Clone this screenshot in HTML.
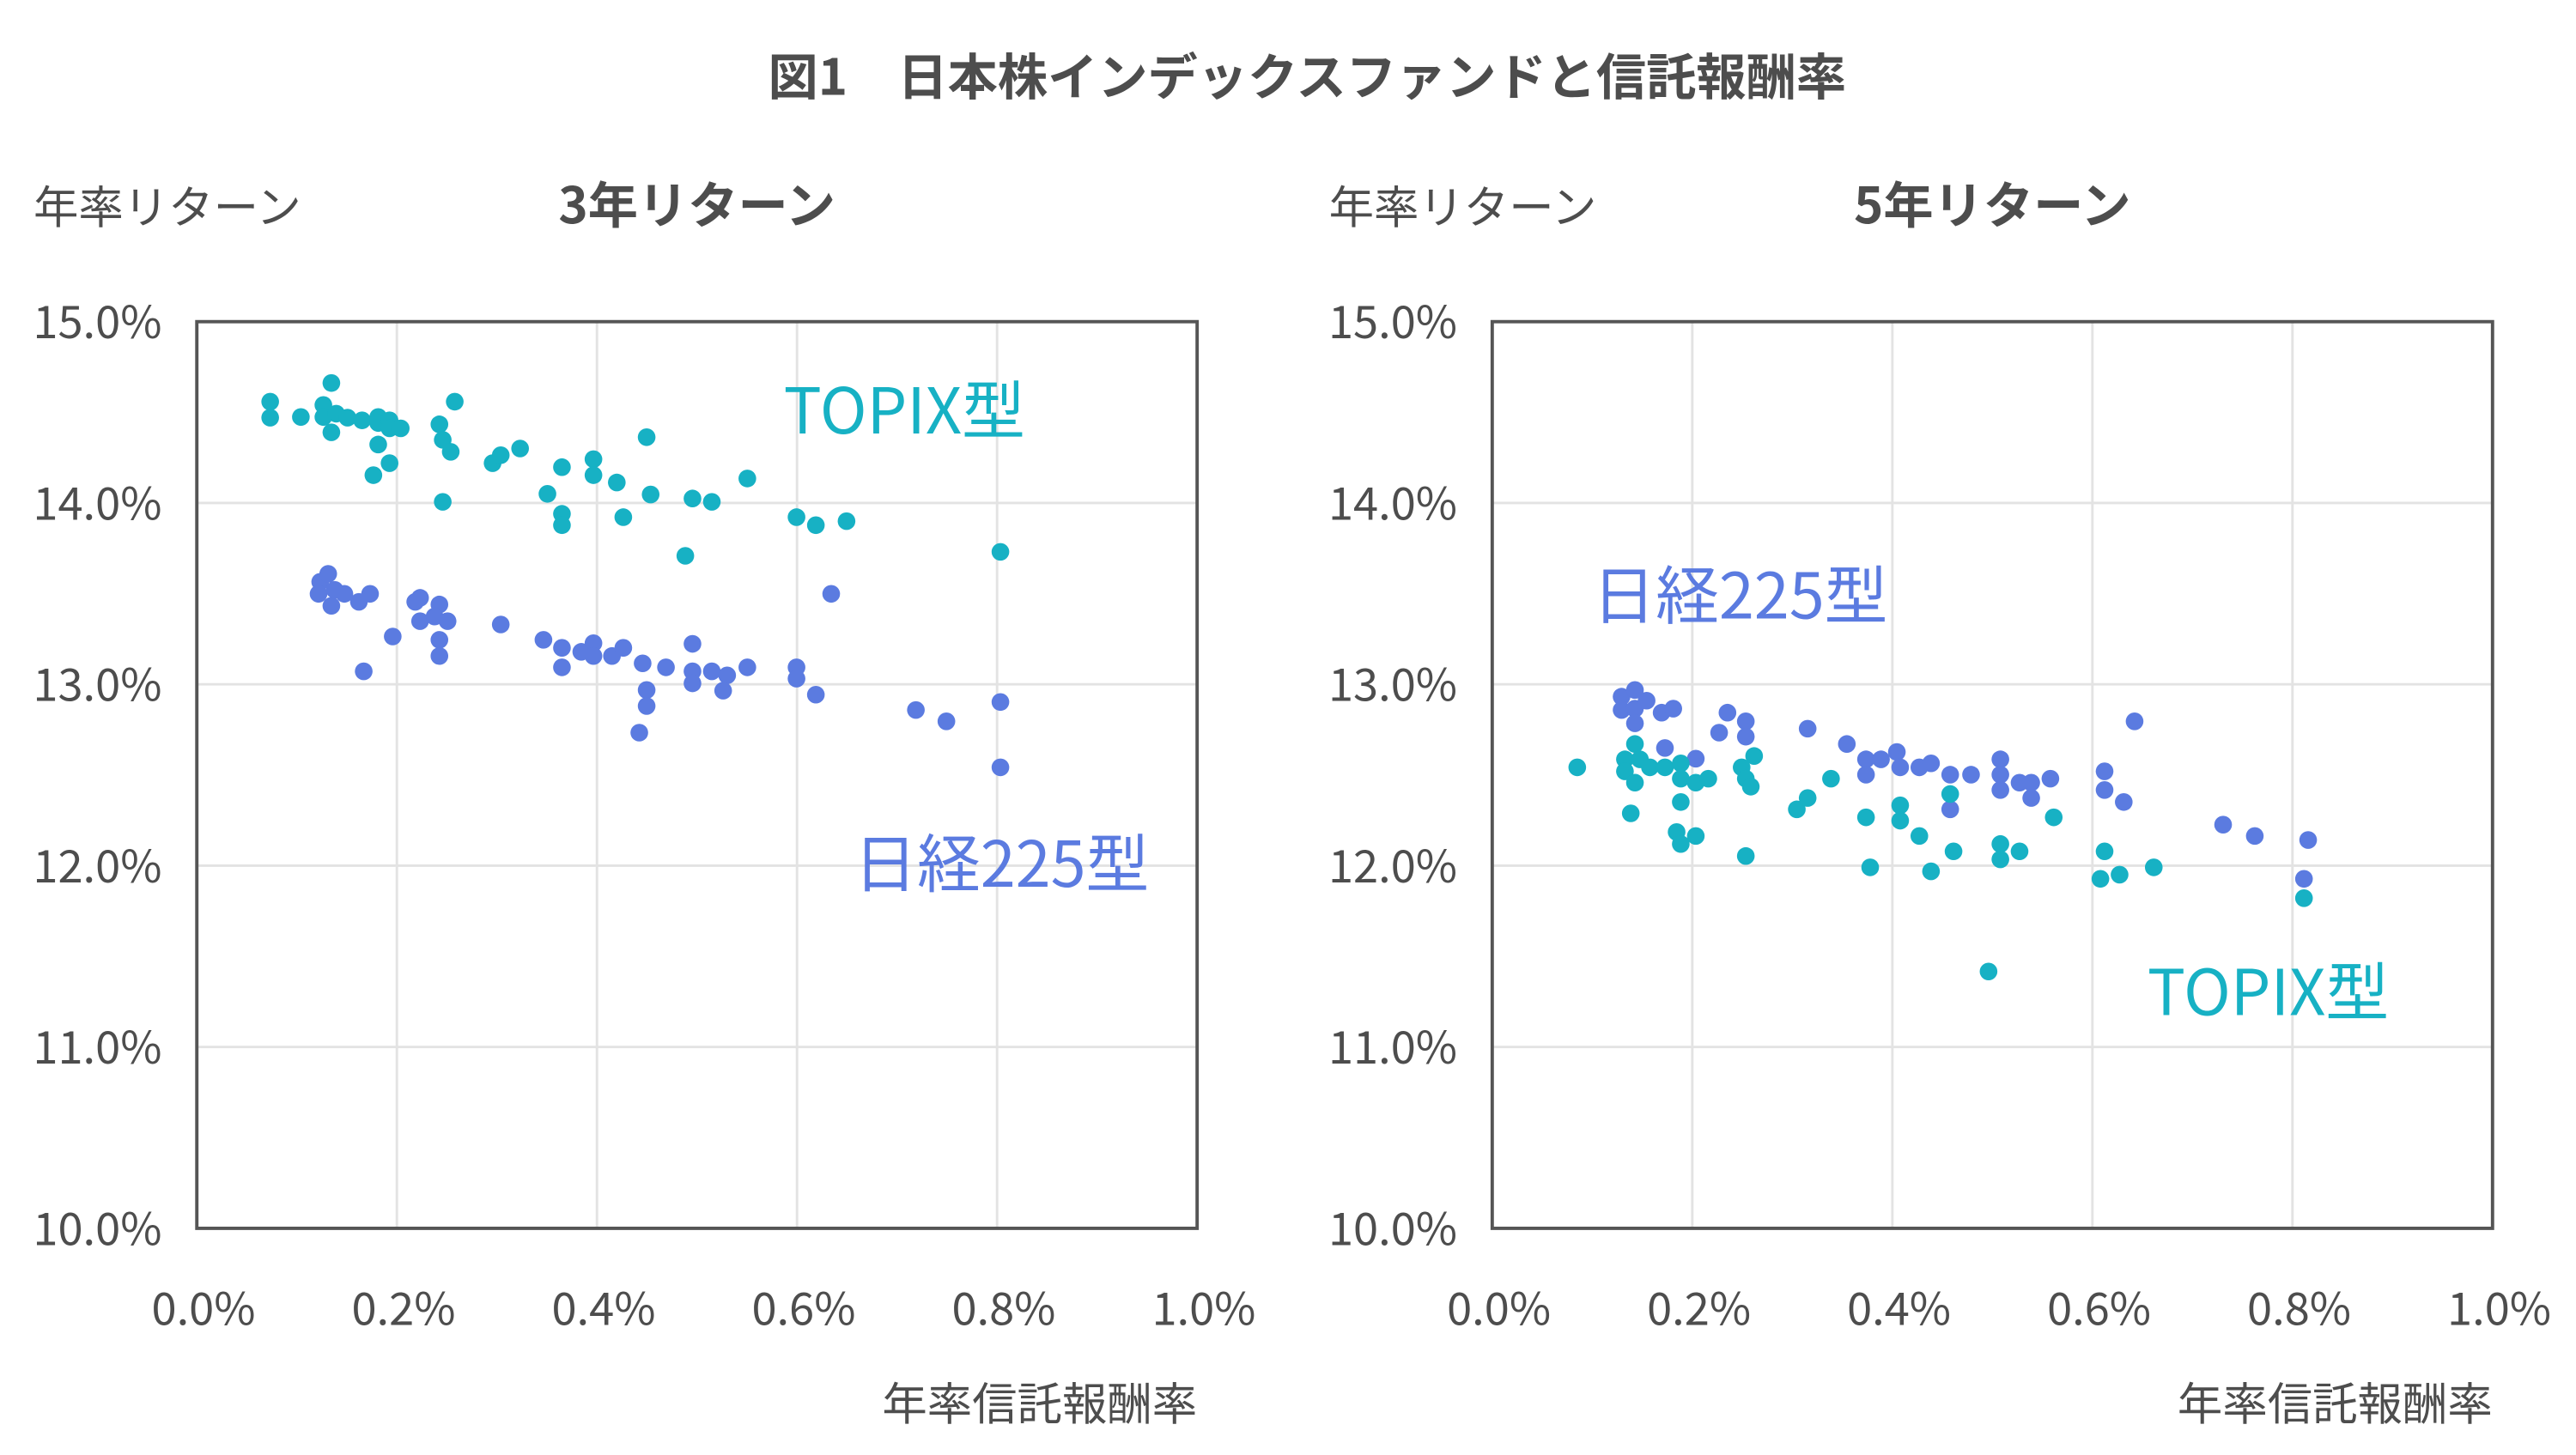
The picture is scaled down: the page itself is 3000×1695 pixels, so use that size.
<!DOCTYPE html>
<html><head><meta charset="utf-8"><style>
html,body{margin:0;padding:0;background:#fff;}
svg{display:block;}
text{font-family:"Noto Sans CJK JP","Liberation Sans",sans-serif;fill:#4d4d4d;}
</style></head><body>
<svg id="s" width="3000" height="1695" viewBox="0 0 1545 873" xmlns="http://www.w3.org/2000/svg">
<text x="784" y="57" font-size="30" font-weight="bold" text-anchor="middle">図1　日本株インデックスファンドと信託報酬率</text>
<text x="20" y="134" font-size="27">年率リターン</text>
<text x="418" y="134" font-size="30" font-weight="bold" text-anchor="middle">3年リターン</text>
<text x="797" y="134" font-size="27">年率リターン</text>
<text x="1195" y="134" font-size="30" font-weight="bold" text-anchor="middle">5年リターン</text>
<text x="718" y="852" font-size="27" text-anchor="end">年率信託報酬率</text>
<text x="1495" y="852" font-size="27" text-anchor="end">年率信託報酬率</text>
<g id="g"></g>
<text x="470" y="260" font-size="38" style="fill:#17b1c4">TOPIX型</text>
<text x="512" y="532" font-size="38" style="fill:#5b7be0">日経225型</text>
<text x="955" y="371" font-size="38" style="fill:#5b7be0">日経225型</text>
<text x="1288" y="609" font-size="38" style="fill:#17b1c4">TOPIX型</text>
</svg>
<script>
var g=document.getElementById('g'),h='';
function panel(x0){
 var y0=193,y1=737,w=600;
 for(var i=1;i<5;i++){var x=x0+i*w/5;h+='<line x1="'+x+'" y1="'+y0+'" x2="'+x+'" y2="'+y1+'" stroke="#e3e3e3" stroke-width="1.5"/>';}
 for(var j=1;j<5;j++){var y=y0+j*108.8;h+='<line x1="'+x0+'" y1="'+y+'" x2="'+(x0+w)+'" y2="'+y+'" stroke="#e3e3e3" stroke-width="1.5"/>';}
 for(var j=0;j<6;j++){var y=y0+j*108.8;h+='<text x="'+(x0-21)+'" y="'+(y+10)+'" font-size="27" text-anchor="end">'+(15-j)+'.0%</text>';}
 for(var i=0;i<6;i++){var x=x0+i*w/5+4;h+='<text x="'+x+'" y="'+795+'" font-size="27" text-anchor="middle">'+(i/5).toFixed(1)+'%</text>';}
}
panel(118);panel(895);
function dots(pts,c,zx0,zx1,X0){
 for(var k=0;k<pts.length;k++){var p=pts[k];
  var X=X0+(p[0]-zx0)*600/(zx1-zx0),Y=193+(p[1]-38)*0.4003;
  h+='<circle cx="'+X.toFixed(1)+'" cy="'+Y.toFixed(1)+'" r="5.3" fill="'+c+'"/>';}
}
var lt=[[336,158],[336,182],[374,181],[412,130],[402,163],[402,181],[412,204],[418,176],[432,182],[450,186],[470,181],[470,190],[484,186],[484,198],[498,198],[470,222],[484,250],[464,268],[546,192],[550,215],[560,233],[565,158],[550,308],[612,250],[622,238],[646,228],[698,256],[680,296],[698,326],[698,343],[737,244],[737,268],[766,279],[774,331],[803,211],[808,297],[851,389],[860,303],[884,308],[928,273],[989,331],[1013,343],[1051,337],[1242,383]];
var ln=[[398,428],[396,446],[408,416],[412,464],[416,440],[428,446],[446,458],[460,446],[452,562],[488,510],[516,458],[522,452],[522,487],[546,462],[540,480],[556,487],[546,515],[546,539],[622,492],[675,515],[698,527],[698,556],[722,533],[737,520],[737,539],[760,539],[774,527],[798,550],[827,556],[803,590],[803,614],[794,654],[860,521],[860,562],[860,580],[884,562],[903,568],[898,591],[928,556],[989,556],[989,573],[1013,597],[1032,446],[1137,620],[1175,637],[1242,608],[1242,706]];
var rn=[[378,600],[378,620],[394,590],[394,618],[394,640],[408,606],[426,624],[440,618],[430,677],[467,693],[495,654],[505,624],[527,637],[527,660],[601,648],[648,671],[671,694],[671,717],[689,694],[708,683],[712,706],[735,706],[749,700],[772,717],[772,769],[797,717],[832,694],[832,717],[832,740],[855,729],[869,729],[869,752],[892,723],[957,712],[957,740],[980,758],[993,637],[1099,792],[1137,809],[1201,815],[1196,873]];
var rt=[[325,706],[382,694],[382,712],[394,671],[400,694],[394,729],[389,775],[412,706],[430,706],[449,700],[449,723],[467,729],[482,723],[449,758],[444,803],[449,821],[467,809],[522,706],[527,723],[533,735],[537,689],[527,839],[588,769],[601,752],[629,723],[671,781],[676,856],[712,763],[712,786],[735,809],[749,862],[772,746],[776,832],[818,1012],[832,821],[832,844],[855,832],[896,781],[952,873],[957,832],[975,867],[1016,856],[1196,902]];
dots(lt,'#17b1c4',245,1486,118);dots(ln,'#5b7be0',245,1486,118);
dots(rn,'#5b7be0',223,1422,895);dots(rt,'#17b1c4',223,1422,895);
h+='<rect x="118" y="193" width="600" height="544" fill="none" stroke="#555" stroke-width="2"/>';
h+='<rect x="895" y="193" width="600" height="544" fill="none" stroke="#555" stroke-width="2"/>';
g.innerHTML=h;
</script>
</body></html>
